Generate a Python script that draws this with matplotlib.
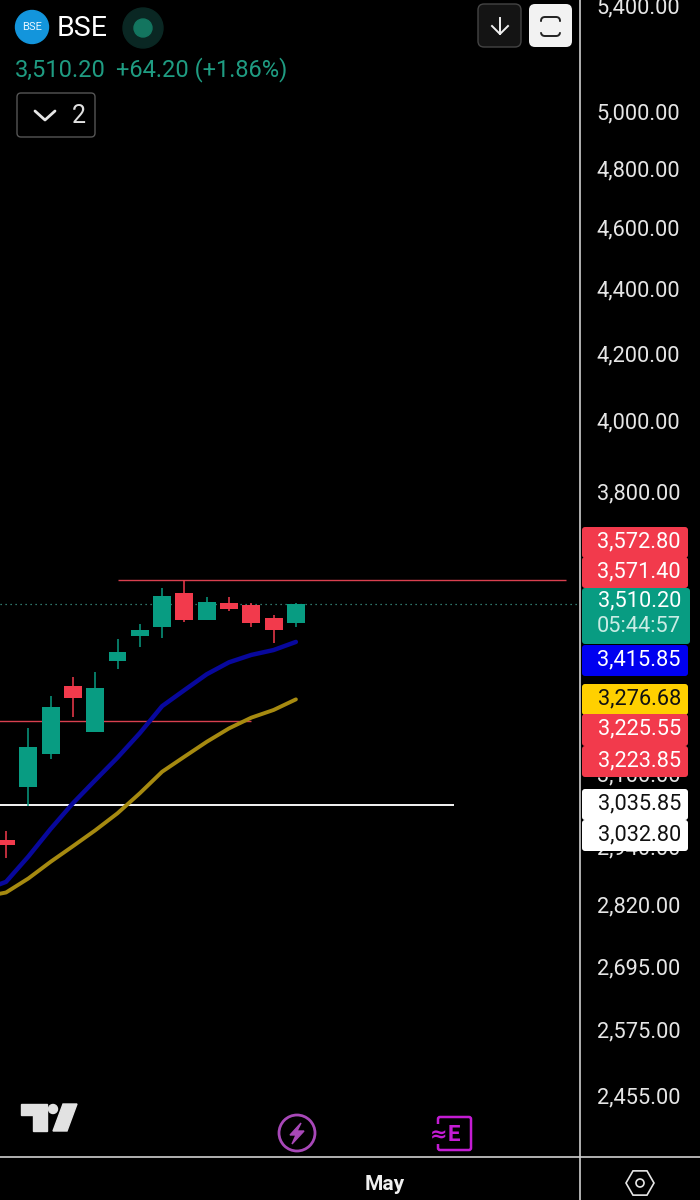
#!/usr/bin/env python
"""BSE daily candles on a log price scale, dark mobile chart layout."""

import matplotlib
matplotlib.use("Agg")
import matplotlib.pyplot as plt
from matplotlib.patches import Circle, FancyBboxPatch, Polygon, RegularPolygon
from matplotlib.transforms import ScaledTranslation

plt.rcParams["font.family"] = ["Roboto", "DejaVu Sans"]

GREEN = "#089c82"
RED = "#f23a4c"
TICK = "#e6e6e6"
PRICE_SIZE = 15.7

bars = list(range(14))
opens = [2960, 3075, 3150, 3310, 3201, 3369, 3430, 3454, 3540, 3470, 3513, 3508, 3475, 3464]
closes = [2950, 3165, 3258, 3280, 3304, 3391, 3446, 3531, 3470, 3515, 3497, 3462, 3445, 3510.2]
highs = [2979, 3209, 3285, 3331, 3342, 3422, 3460, 3551, 3572, 3528, 3529, 3513, 3482, 3512.5]
lows = [2921, 3034, 3139, 3235, 3201, 3350, 3404, 3425, 3465, 3470, 3492, 3454, 3413, 3452]

ma_bars = list(range(-1, 14))
ma_blue = [2855, 2872, 2925, 2984, 3040, 3091, 3142, 3198, 3261, 3299, 3337, 3366, 3384, 3396, 3416]
ma_gold = [2841, 2850, 2879, 2914, 2947, 2981, 3018, 3062, 3110, 3144, 3178, 3209, 3234, 3252, 3277]

price_ticks = [5400, 5000, 4800, 4600, 4400, 4200, 4000, 3800, 3100, 2940, 2820, 2695, 2575, 2455]
last_price = 3510.20

# price, first bar, last bar, colour, width
levels = [
    (3571.40, 5, 25.1, "#d8404f", 1.0),
    (3225.55, -2, 11, "#d8404f", 1.0),
    (3035.85, -2, 20.1, "#f5f5f5", 1.4),
]

# text, text colour, box colour, top, bottom
price_tags = [
    ("3,572.80", "#ffffff", RED, 527, 558),
    ("3,571.40", "#ffffff", RED, 557, 588),
    ("3,415.85", "#ffffff", "#0000f0", 645, 676),
    ("3,276.68", "#111111", "#ffd000", 684, 715),
    ("3,225.55", "#ffffff", RED, 714, 746),
    ("3,223.85", "#ffffff", RED, 746, 777),
    ("3,035.85", "#111111", "#ffffff", 789, 820),
    ("3,032.80", "#111111", "#ffffff", 820, 851),
]


def draw_candles(ax):
    for i, o, c, h, l in zip(bars, opens, closes, highs, lows):
        colour = GREEN if c >= o else RED
        ax.vlines(i, l, h, color=colour, lw=1.1, zorder=3)
        ax.bar(i, abs(c - o), bottom=min(o, c), width=0.8, color=colour, zorder=3)


def draw_header(ui):
    ui.add_patch(Circle((32, 27), 16.5, color="#1395dc"))
    ui.text(32, 27.5, "BSE", color="#e8f6ff", fontsize=8, ha="center", va="center")
    ui.text(57, 28, "BSE", color="#ffffff", fontsize=20.5, va="center")
    ui.add_patch(Circle((143, 28), 20, color="#0a2723"))
    ui.add_patch(Circle((143, 28), 9, color="#13755f"))
    ui.text(15, 70, "3,510.20", color="#1f9c82", fontsize=17, va="center")
    ui.text(116, 70, "+64.20 (+1.86%)", color="#1f9c82", fontsize=17, va="center")

    ui.add_patch(FancyBboxPatch((17, 93), 78, 44, boxstyle="round,pad=0,rounding_size=4",
                                fc="#000000", ec="#555555", lw=1))
    ui.plot([35, 45, 55], [111, 120, 111], color="#e6e6e6", lw=2, solid_capstyle="round")
    ui.text(79, 116, "2", color="#e0e0e0", fontsize=18, ha="center", va="center")

    # top right buttons
    ui.add_patch(FancyBboxPatch((478, 4), 43, 43, boxstyle="round,pad=0,rounding_size=6",
                                fc="#141414", ec="#444444", lw=1))
    ui.plot([500, 500], [18, 34], color="#f0f0f0", lw=1.4)
    ui.plot([492, 500, 508], [26, 34, 26], color="#f0f0f0", lw=1.4)
    ui.add_patch(FancyBboxPatch((529, 4), 43, 43, boxstyle="round,pad=0,rounding_size=6",
                                fc="#f2f2f2", ec="none"))
    ui.add_patch(FancyBboxPatch((541, 17), 19, 19, boxstyle="round,pad=0,rounding_size=4",
                                fc="none", ec="#222222", lw=1.4))
    ui.plot([541, 541], [23, 30], color="#f2f2f2", lw=2.5)
    ui.plot([560, 560], [23, 30], color="#f2f2f2", lw=2.5)


def draw_tags(ui):
    for label, text_colour, box_colour, top, bottom in price_tags:
        ui.add_patch(FancyBboxPatch((582, top), 106, bottom - top,
                                    boxstyle="round,pad=0,rounding_size=3",
                                    fc=box_colour, ec="none"))
        ui.text(681, (top + bottom) / 2 - 1, label, color=text_colour, fontsize=PRICE_SIZE,
                ha="right", va="center")
    ui.add_patch(FancyBboxPatch((582, 588), 108, 56, boxstyle="round,pad=0,rounding_size=3",
                                fc=GREEN, ec="none"))
    ui.text(681, 601, "3,510.20", color="#ffffff", fontsize=PRICE_SIZE, ha="right", va="center")
    ui.text(681, 627, "05:44:57", color="#c8ece4", fontsize=PRICE_SIZE, ha="right", va="center")


def draw_icons(ui):
    # tradingview mark
    ui.add_patch(Polygon([(21, 1104), (47, 1104), (47, 1131), (33, 1131), (33, 1115), (21, 1115)],
                         color="#e2e2e2"))
    ui.add_patch(Circle((53, 1109), 4.5, color="#e2e2e2"))
    ui.add_patch(Polygon([(63, 1104), (77, 1104), (67, 1131), (53, 1131)], color="#e2e2e2"))

    # bolt
    ui.add_patch(Circle((297, 1133), 18, fc="none", ec="#a848b8", lw=2))
    ui.add_patch(Polygon([(301, 1123), (290, 1135), (296, 1135), (292, 1144), (304, 1131), (297, 1131)],
                         color="#a848b8"))

    # earnings
    ui.add_patch(FancyBboxPatch((438, 1117), 33, 33, boxstyle="round,pad=0,rounding_size=2",
                                fc="#000000", ec="#c41cd4", lw=1.8))
    ui.add_patch(FancyBboxPatch((432, 1124), 9, 20, boxstyle="square,pad=0", fc="#000000", ec="none"))
    ui.text(439, 1135, "≈", color="#c41cd4", fontsize=15, fontweight="bold", ha="center", va="center",
            family="DejaVu Sans")
    ui.text(454, 1135, "E", color="#c41cd4", fontsize=16, fontweight="bold", ha="center", va="center")

    # settings
    ui.add_patch(RegularPolygon((640, 1183), 6, radius=14, orientation=0.5236,
                                fc="none", ec="#e6e6e6", lw=1.2))
    ui.add_patch(Circle((640, 1183), 4, fc="none", ec="#e6e6e6", lw=1.2))


def main():
    fig = plt.figure(figsize=(7, 12), dpi=100, facecolor="#000000")

    ax = fig.add_axes([0, 43 / 1200, 580 / 700, 1157 / 1200], facecolor="#000000")
    ax.set_yscale("log")
    ax.set_xlim(-0.27, 25.74)
    ax.set_ylim(2354, 5433)

    for price, start, end, colour, width in levels:
        ax.hlines(price, start, end, color=colour, lw=width, zorder=2)
    ax.axhline(last_price, color="#3f9c8c", lw=0.9, ls=(0, (1, 3)), zorder=1)

    draw_candles(ax)
    ax.plot(ma_bars, ma_blue, color="#08089c", lw=3.2, zorder=4, solid_capstyle="round")
    ax.plot(ma_bars, ma_gold, color="#a68a10", lw=2.8, zorder=4, solid_capstyle="round")

    ax.yaxis.tick_right()
    ax.set_yticks(price_ticks, [f"{p:,.2f}" for p in price_ticks])
    ax.minorticks_off()
    ax.tick_params(axis="y", length=0, pad=12, labelsize=PRICE_SIZE, labelcolor=TICK)
    ax.set_xticks([17], ["May"])
    ax.tick_params(axis="x", length=0, pad=13, labelsize=15, labelcolor="#f0f0f0")
    for label in ax.get_xticklabels():
        label.set_fontweight("bold")
    for spine in ax.spines.values():
        spine.set_visible(False)

    # price labels sit a little above their log position in the app
    nudge = ScaledTranslation(0, 2.2 / 72, fig.dpi_scale_trans)
    for label in ax.get_yticklabels():
        label.set_transform(label.get_transform() + nudge)

    # overlay in screen pixels for the app chrome
    ui = fig.add_axes([0, 0, 1, 1], zorder=5)
    ui.set_xlim(0, 700)
    ui.set_ylim(1200, 0)
    ui.axis("off")
    ui.patch.set_alpha(0)

    ui.plot([580, 580], [0, 1200], color="#cfcfcf", lw=1.2)
    ui.plot([0, 700], [1157, 1157], color="#cfcfcf", lw=1.2)

    draw_header(ui)
    draw_tags(ui)
    draw_icons(ui)

    fig.savefig("out.png", dpi=100, facecolor="#000000")


if __name__ == "__main__":
    main()
